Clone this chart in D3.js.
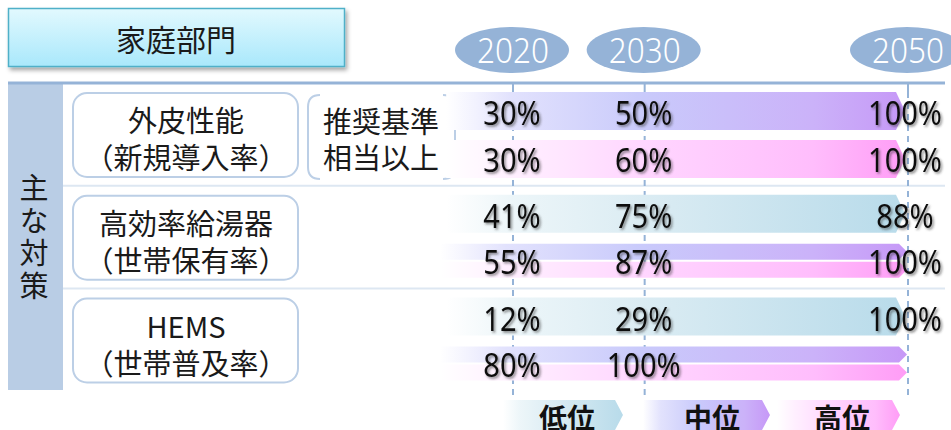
<!DOCTYPE html>
<html><head><meta charset="utf-8">
<script src="https://cdn.jsdelivr.net/npm/d3@7"></script>
<style>body{margin:0;background:#fff;} svg{display:block}</style>
</head><body><svg id="c" width="951" height="430"></svg>
<script>
// ---- data ----
const title = "家庭部門";
const sideLabel = "主な対策";
const years = [2020, 2030, 2050];
const startYear = 2015;
const measures = ["外皮性能", "高効率給湯器", "HEMS"];
const measureNotes = ["（新規導入率）", "（世帯保有率）", "（世帯普及率）"];
const standardNote = ["推奨基準", "相当以上"];
const levels = ["低位", "中位", "高位"];
const rowMeasure = [0, 0, 1, 1, 2, 2];
const rowSlot = [0, 1, 0, 1, 0, 1];
const rowLevels = [["中位"], ["高位"], ["低位"], ["中位", "高位"], ["低位"], ["中位", "高位"]];
const rowValues = [[30, 50, 100], [30, 60, 100], [41, 75, 88], [55, 87, 100], [12, 29, 100], [80, 100, null]];

// ---- styles ----
const gradStops = {
  "低位": [[0, "#ffffff"], [0.14, "#edf6f9"], [0.43, "#dbecf3"], [1, "#b8dbea"]],
  "中位": [[0, "#ffffff"], [0.14, "#e2e2fd"], [0.43, "#c9cafb"], [0.8, "#cbb2f9"], [1, "#c698f7"]],
  "高位": [[0, "#ffffff"], [0.14, "#fff0ff"], [0.43, "#ffd6ff"], [0.8, "#ffbdfc"], [1, "#ff9cf6"]]
};
const cjk = "'Noto Sans CJK JP', 'Noto Sans', sans-serif";
const num = "'Noto Sans', 'DejaVu Sans', sans-serif";
const lineBlue = "#95b3d7";

const svg = d3.select("#c");
const defs = svg.append("defs");
levels.forEach((lv, i) => {
  const g = defs.append("linearGradient").attr("id", "g" + i).attr("x1", 0).attr("x2", 1).attr("y1", 0).attr("y2", 0);
  gradStops[lv].forEach(s => g.append("stop").attr("offset", s[0]).attr("stop-color", s[1]));
});
const tg = defs.append("linearGradient").attr("id", "tg").attr("x1", 0).attr("x2", 0).attr("y1", 0).attr("y2", 1);
tg.append("stop").attr("offset", 0).attr("stop-color", "#e2f9fe");
tg.append("stop").attr("offset", 1).attr("stop-color", "#a9e8fb");
const sh = defs.append("filter").attr("id", "boxsh").attr("x", "-10%").attr("y", "-20%").attr("width", "130%").attr("height", "160%");
sh.append("feDropShadow").attr("dx", 2).attr("dy", 3).attr("stdDeviation", 2).attr("flood-color", "#000").attr("flood-opacity", 0.35);
const tsh = defs.append("filter").attr("id", "txtsh").attr("x", "-20%").attr("y", "-20%").attr("width", "150%").attr("height", "160%");
tsh.append("feDropShadow").attr("dx", 1.8).attr("dy", 1.8).attr("stdDeviation", 1.1).attr("flood-color", "#333").attr("flood-opacity", 0.55);

const levelIdx = lv => levels.indexOf(lv);

// ---- scales ----
const x = d3.scaleLinear().domain([years[0], years[2]]).range([512, 907]);
const gy = d3.scaleLinear().domain([0, 2]).range([83, 288.5]);

// ---- title ----
svg.append("rect").attr("x", 8.5).attr("y", 8.5).attr("width", 336).attr("height", 58)
  .attr("fill", "url(#tg)").attr("stroke", "#4fb0c8").attr("stroke-width", 1.5).attr("filter", "url(#boxsh)");
svg.append("text").attr("x", 176).attr("y", 51).attr("text-anchor", "middle")
  .attr("font-family", cjk).attr("font-size", 30).attr("fill", "#1a1a1a").text(title);

// ---- year bubbles ----
years.forEach(yr => {
  svg.append("ellipse").attr("cx", x(yr)).attr("cy", 50).attr("rx", 57).attr("ry", 23).attr("fill", lineBlue);
  svg.append("g").attr("transform", `translate(${x(yr) + 1},62.5) scale(0.9,1)`)
    .append("text").attr("text-anchor", "middle").attr("font-family", num).attr("font-weight", 300)
    .attr("font-size", 35).attr("fill", "#fff").text(yr);
});

// ---- frame ----
svg.append("rect").attr("x", 8).attr("y", 84).attr("width", 55).attr("height", 306).attr("fill", "#b9cde5");
svg.append("line").attr("x1", 8).attr("x2", 945).attr("y1", 83).attr("y2", 83).attr("stroke", lineBlue).attr("stroke-width", 3);
[1, 2].forEach(i => svg.append("line").attr("x1", 63).attr("x2", 945).attr("y1", gy(i)).attr("y2", gy(i))
  .attr("stroke", "#dde7f2").attr("stroke-width", 2));
svg.append("text").attr("x", 34).attr("y", 173.5)
  .style("writing-mode", "vertical-rl").style("text-orientation", "upright")
  .attr("letter-spacing", 3.5)
  .attr("font-family", cjk).attr("font-size", 29).attr("fill", "#1a1a1a").text(sideLabel);

// ---- year guide lines ----
years.forEach(yr => {
  svg.append("line").attr("x1", x(yr) + 1).attr("x2", x(yr) + 1).attr("y1", 84).attr("y2", 92).attr("stroke", lineBlue).attr("stroke-width", 2);
  svg.append("line").attr("x1", x(yr) + 1).attr("x2", x(yr) + 1).attr("y1", 92).attr("y2", 398).attr("stroke", lineBlue)
    .attr("stroke-width", 2).attr("stroke-dasharray", "6,5");
});

// ---- category boxes ----
measures.forEach((m, i) => {
  const t = gy(i);
  svg.append("rect").attr("x", 73).attr("y", t + 10).attr("width", 225).attr("height", 84).attr("rx", 14)
    .attr("fill", "#fff").attr("stroke", "#bccfe6").attr("stroke-width", 2);
  svg.append("text").attr("x", 186).attr("y", t + 49).attr("text-anchor", "middle")
    .attr("font-family", cjk).attr("font-size", 29).attr("fill", "#1a1a1a").text(m);
  svg.append("text").attr("x", 186).attr("y", t + 86).attr("text-anchor", "middle")
    .attr("font-family", cjk).attr("font-size", 29).attr("fill", "#1a1a1a").text(measureNotes[i]);
});
// bracket note
{
  const t = gy(0), y0 = t + 12, y1 = t + 96, r = 12;
  const l = 308, rr = 455;
  svg.append("path").attr("d", `M${l + r},${y0} Q${l},${y0} ${l},${y0 + r} V${y1 - r} Q${l},${y1} ${l + r},${y1}`)
    .attr("fill", "none").attr("stroke", "#bccfe6").attr("stroke-width", 2);
  svg.append("path").attr("d", `M${rr - r},${y0} Q${rr},${y0} ${rr},${y0 + r} V${y1 - r} Q${rr},${y1} ${rr - r},${y1}`)
    .attr("fill", "none").attr("stroke", "#bccfe6").attr("stroke-width", 2);
  standardNote.forEach((s, i) => svg.append("text").attr("x", 381).attr("y", t + 50 + i * 36).attr("text-anchor", "middle")
    .attr("font-family", cjk).attr("font-size", 29).attr("fill", "#1a1a1a").text(s));
}

// ---- bars ----
function arrow(x0, x1, y0, y1, tip) {
  return `M${x0},${y0} H${x1 - tip} L${x1},${(y0 + y1) / 2} L${x1 - tip},${y1} H${x0} Z`;
}
const xs = x(startYear), xe = x(years[2]) - 2;
rowValues.forEach((vals, r) => {
  const t = gy(rowMeasure[r]);
  const slot = rowSlot[r];
  const lv = rowLevels[r];
  if (lv.length === 1) {
    const y0 = slot === 0 ? t + 9 : t + 57, y1 = y0 + 38;
    svg.append("path").attr("d", arrow(xs, xe, y0, y1, 9)).attr("fill", `url(#g${levelIdx(lv[0])})`);
  } else {
    const spans = [[t + 58, t + 74], [t + 76, t + 92]];
    lv.forEach((l, k) => svg.append("path").attr("d", arrow(xs - 6, xe + 2, spans[k][0], spans[k][1], 8))
      .attr("fill", `url(#g${levelIdx(l)})`));
  }
});
rowValues.forEach((vals, r) => {
  const t = gy(rowMeasure[r]);
  const base = rowSlot[r] === 0 ? t + 42 : t + 88.5;
  vals.forEach((v, k) => {
    if (v === null) return;
    svg.append("g").attr("transform", `translate(${x(years[k]) - (k === 2 ? 2 : 0)},${base}) scale(0.88,1)`)
      .append("text").attr("text-anchor", "middle").attr("font-family", num).attr("font-size", 33)
      .attr("fill", "#111").attr("filter", "url(#txtsh)").text(v + "%");
  });
});

// ---- legend ----
const legendBox = [[503, 623, 567], [643, 770, 712], [777, 900, 842]];
levels.forEach((lv, i) => {
  const b = legendBox[i];
  svg.append("path").attr("d", arrow(b[0], b[1], 400, 430, 8)).attr("fill", `url(#g${i})`);
  svg.append("text").attr("x", b[2]).attr("y", 429).attr("text-anchor", "middle")
    .attr("font-family", cjk).attr("font-weight", 700).attr("font-size", 28).attr("fill", "#111").text(lv);
});
</script></body></html>
